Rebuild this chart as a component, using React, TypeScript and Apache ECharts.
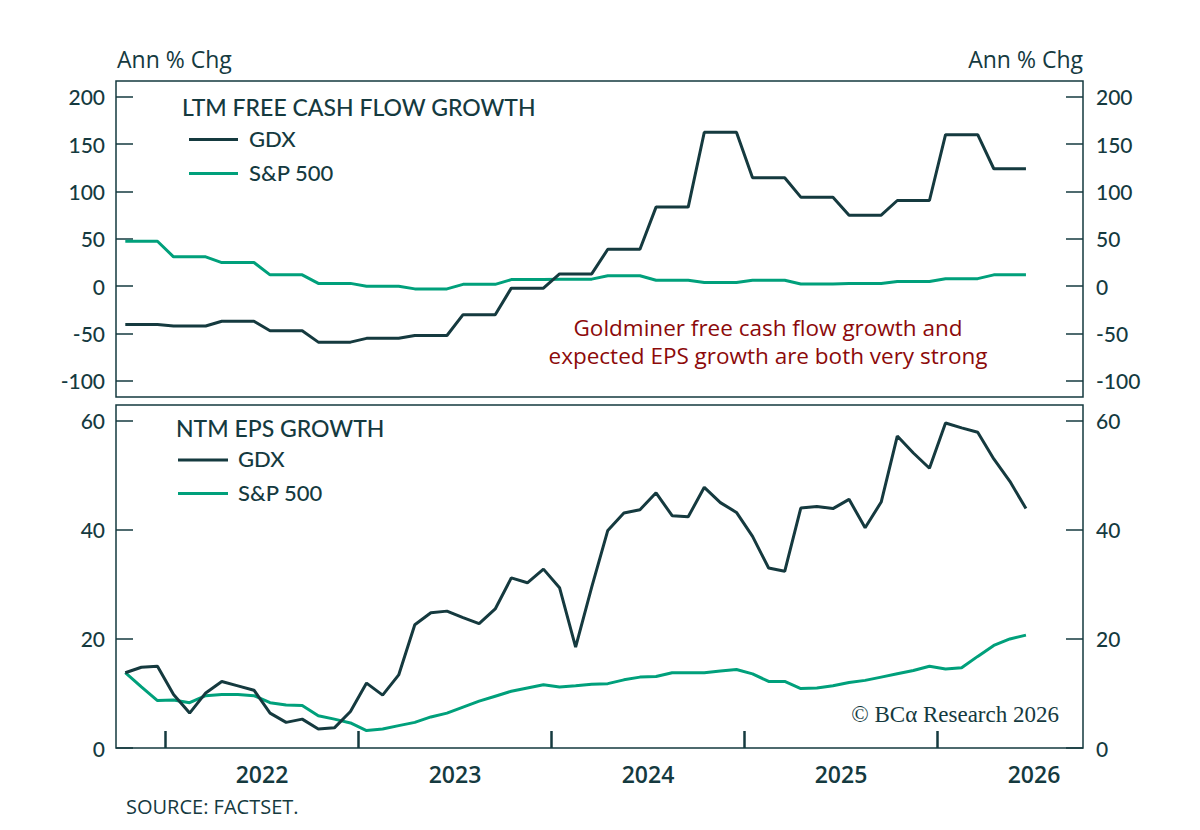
import React, { useEffect, useRef } from 'react';
import * as echarts from 'echarts';

// monthly observations, Apr 2021 .. Dec 2025
const firstMonth = { year: 2021, month: 4 };
const monthCount = 57;

// LTM free cash flow growth (top panel), quarterly values held for 3 months
const fcfGdx = [
  -40.5, -40.5, -40.5, -42, -42, -42, -37, -37, -37, -47, -47, -47,
  -59, -59, -59, -55, -55, -55, -52, -52, -52, -30, -30, -30,
  -2, -2, -2, 13, 13, 13, 39, 39, 39, 83.5, 83.5, 83.5,
  162.5, 162.5, 162.5, 114.5, 114.5, 114.5, 94, 94, 94, 75, 75, 75,
  90.5, 90.5, 90.5, 160, 160, 160, 124, 124, 124,
];
const fcfSpx = [
  47.5, 47.5, 47.5, 31, 31, 31, 25, 25, 25, 12, 12, 12,
  3, 3, 3, 0, 0, 0, -2.8, -2.8, -2.8, 2, 2, 2,
  7, 7, 7, 7.5, 7.5, 7.5, 11, 11, 11, 6.3, 6.3, 6.3,
  4, 4, 4, 6.3, 6.3, 6.3, 2.3, 2.3, 2.3, 2.8, 2.8, 2.8,
  5, 5, 5, 8, 8, 8, 12, 12, 12,
];

// NTM EPS growth (bottom panel)
const epsGdx = [
  13.8, 14.8, 15.0, 9.8, 6.4, 10.1, 12.2, 11.4, 10.6, 6.4, 4.7, 5.3,
  3.5, 3.7, 6.7, 11.9, 9.7, 13.4, 22.6, 24.8, 25.1, 23.9, 22.8, 25.5,
  31.2, 30.3, 32.8, 29.4, 18.5, 29.5, 39.9, 43.1, 43.7, 46.8, 42.6, 42.4,
  47.8, 45.0, 43.2, 38.8, 33.0, 32.4, 44.0, 44.3, 43.9, 45.6, 40.4, 45.1,
  57.2, 54.1, 51.3, 59.6, 58.7, 57.9, 53.0, 48.9, 43.9,
];
const epsSpx = [
  13.8, 11.2, 8.7, 8.8, 8.3, 9.6, 9.8, 9.8, 9.6, 8.3, 7.9, 7.8,
  5.9, 5.3, 4.6, 3.2, 3.5, 4.1, 4.7, 5.7, 6.4, 7.5, 8.6, 9.5,
  10.4, 11.0, 11.6, 11.2, 11.4, 11.7, 11.8, 12.5, 13.0, 13.1, 13.8, 13.8,
  13.8, 14.1, 14.4, 13.6, 12.2, 12.2, 10.9, 11.0, 11.4, 12.0, 12.4, 13.0,
  13.6, 14.2, 15.0, 14.5, 14.7, 16.8, 18.8, 20.0, 20.7,
];

const fcfTicks = [-100, -50, 0, 50, 100, 150, 200];
const epsTicks = [0, 20, 40, 60];
const yearLabels = [2022, 2023, 2024, 2025, 2026];
const yearTicks = [2021.5, 2022.5, 2023.5, 2024.5, 2025.5];
const noteLines = ['Goldminer free cash flow growth and', 'expected EPS growth are both very strong'];

const DARK = '#153a3f';
const GREEN = '#00a07b';
const RED = '#8c0a0a';
const FONT = 'Lato, "Open Sans", sans-serif';
const WIDE = '"Open Sans", Lato, sans-serif';

// mid-month position as a decimal year
const monthPos = Array.from({ length: monthCount }, (_, i) => {
  const m = firstMonth.month - 1 + i;
  return firstMonth.year + Math.floor(m / 12) + ((m % 12) + 0.5) / 12;
});
const pairs = (vals: number[]) => vals.map((v, i) => [monthPos[i], v]);

const X_MIN = 2021.2435;
const X_MAX = 2026.2539;

const App: React.FC = () => {
  const chartRef = useRef<HTMLDivElement | null>(null);

  useEffect(() => {
    if (!chartRef.current) return;
    const chart = echarts.init(chartRef.current, undefined, { renderer: 'svg' });

    const yAxisBase = (grid: number, pos: 'left' | 'right', min: number, max: number, ticks: number[]) => ({
      type: 'value',
      gridIndex: grid,
      position: pos,
      min,
      max,
      splitLine: { show: false },
      axisLine: { show: false },
      axisTick: {
        show: true,
        inside: true,
        length: 17,
        customValues: ticks,
        lineStyle: { color: DARK, width: 1.5 },
      },
      axisLabel: {
        customValues: ticks,
        color: DARK,
        fontFamily: FONT,
        fontSize: 21,
        fontWeight: 500,
        margin: pos === 'left' ? 11 : 13,
      },
    });

    const option = {
      animation: false,
      backgroundColor: '#ffffff',
      grid: [
        { left: 116, width: 967, top: 81, height: 316, show: true, borderColor: DARK, borderWidth: 1.5, backgroundColor: 'transparent' },
        { left: 116, width: 967, top: 405, height: 343, show: true, borderColor: DARK, borderWidth: 1.5, backgroundColor: 'transparent' },
      ],
      xAxis: [
        {
          type: 'value',
          gridIndex: 0,
          min: X_MIN,
          max: X_MAX,
          axisLine: { show: false },
          axisTick: { show: false },
          axisLabel: { show: false },
          splitLine: { show: false },
        },
        {
          type: 'value',
          gridIndex: 1,
          min: X_MIN,
          max: X_MAX,
          splitLine: { show: false },
          axisLine: { show: false },
          axisTick: {
            show: true,
            inside: true,
            length: 17,
            customValues: yearTicks,
            lineStyle: { color: DARK, width: 2.5 },
          },
          axisLabel: {
            customValues: yearLabels,
            formatter: (v: number) => String(Math.round(v)),
            color: DARK,
            fontFamily: WIDE,
            fontSize: 23,
            fontWeight: 600,
            margin: 14,
          },
        },
      ],
      yAxis: [
        yAxisBase(0, 'left', -116.9, 216.6, fcfTicks),
        yAxisBase(0, 'right', -116.9, 216.6, fcfTicks),
        yAxisBase(1, 'left', 0, 62.9, epsTicks),
        yAxisBase(1, 'right', 0, 62.9, epsTicks),
      ],
      series: [
        { name: 'GDX', type: 'line', xAxisIndex: 0, yAxisIndex: 0, data: pairs(fcfGdx), showSymbol: false, lineStyle: { color: DARK, width: 3 }, itemStyle: { color: DARK }, z: 3 },
        { name: 'S&P 500', type: 'line', xAxisIndex: 0, yAxisIndex: 0, data: pairs(fcfSpx), showSymbol: false, lineStyle: { color: GREEN, width: 3 }, itemStyle: { color: GREEN }, z: 2 },
        { name: 'GDX', type: 'line', xAxisIndex: 1, yAxisIndex: 2, data: pairs(epsGdx), showSymbol: false, lineStyle: { color: DARK, width: 3 }, itemStyle: { color: DARK }, z: 3 },
        { name: 'S&P 500', type: 'line', xAxisIndex: 1, yAxisIndex: 2, data: pairs(epsSpx), showSymbol: false, lineStyle: { color: GREEN, width: 3 }, itemStyle: { color: GREEN }, z: 2 },
      ],
      graphic: [
        { type: 'text', left: 117, top: 47, style: { text: 'Ann % Chg', fill: DARK, font: `500 23px ${WIDE}` } },
        { type: 'text', right: 117, top: 47, style: { text: 'Ann % Chg', fill: DARK, font: `500 23px ${WIDE}` } },
        // top panel legend
        { type: 'text', left: 182, top: 95, style: { text: 'LTM FREE CASH FLOW GROWTH', fill: DARK, font: `500 23px ${FONT}` } },
        { type: 'line', shape: { x1: 189, y1: 139.5, x2: 238, y2: 139.5 }, style: { stroke: DARK, lineWidth: 3 } },
        { type: 'text', left: 249, top: 127, style: { text: 'GDX', fill: DARK, font: `500 22px ${FONT}` } },
        { type: 'line', shape: { x1: 189, y1: 173.5, x2: 238, y2: 173.5 }, style: { stroke: GREEN, lineWidth: 3 } },
        { type: 'text', left: 249, top: 161, style: { text: 'S&P 500', fill: DARK, font: `500 22px ${FONT}` } },
        // bottom panel legend
        { type: 'text', left: 176, top: 416, style: { text: 'NTM EPS GROWTH', fill: DARK, font: `500 23px ${FONT}` } },
        { type: 'line', shape: { x1: 178, y1: 460, x2: 228, y2: 460 }, style: { stroke: DARK, lineWidth: 3 } },
        { type: 'text', left: 238, top: 447.5, style: { text: 'GDX', fill: DARK, font: `500 22px ${FONT}` } },
        { type: 'line', shape: { x1: 178, y1: 493.5, x2: 228, y2: 493.5 }, style: { stroke: GREEN, lineWidth: 3 } },
        { type: 'text', left: 238, top: 481, style: { text: 'S&P 500', fill: DARK, font: `500 22px ${FONT}` } },
        // annotation, one text per line
        ...noteLines.map((line, i) => ({
          type: 'text',
          x: 768,
          y: 327 + i * 28,
          style: {
            text: line,
            fill: RED,
            font: `500 22.5px ${WIDE}`,
            align: 'center',
            verticalAlign: 'middle',
          },
        })),
        {
          type: 'text',
          x: 1059,
          y: 714,
          style: {
            text: '© BCα Research 2026',
            fill: DARK,
            font: '23px "Liberation Serif", "DejaVu Serif", serif',
            align: 'right',
            verticalAlign: 'middle',
          },
        },
        { type: 'text', left: 126, top: 796, style: { text: 'SOURCE: FACTSET.', fill: DARK, font: `500 20px ${WIDE}` } },
      ],
    };

    chart.setOption(option as any);
    return () => {
      chart.dispose();
    };
  }, []);

  return <div ref={chartRef} style={{ width: 1200, height: 830, margin: -8 }} />;
};

export default App;
